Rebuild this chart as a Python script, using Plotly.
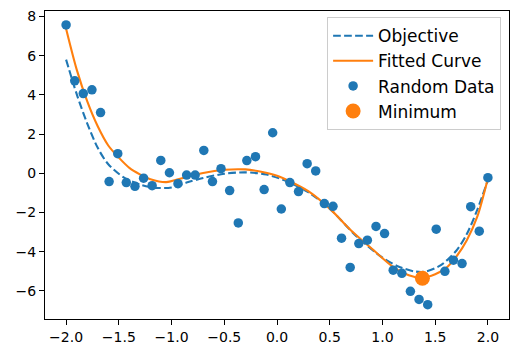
import plotly.graph_objects as go

# Random data points
data_x = [-2.0, -1.918, -1.837, -1.755, -1.673, -1.592, -1.510, -1.429, -1.347, -1.265,
          -1.184, -1.102, -1.020, -0.939, -0.857, -0.776, -0.694, -0.612, -0.531, -0.449,
          -0.367, -0.286, -0.204, -0.122, -0.041, 0.041, 0.122, 0.204, 0.286, 0.367,
          0.449, 0.531, 0.612, 0.694, 0.776, 0.857, 0.939, 1.020, 1.102, 1.184,
          1.265, 1.347, 1.429, 1.510, 1.592, 1.673, 1.755, 1.837, 1.918, 2.0]
data_y = [7.57, 4.72, 4.07, 4.26, 3.10, -0.42, 1.00, -0.47, -0.66, -0.25,
          -0.63, 0.66, 0.03, -0.53, -0.09, -0.09, 1.17, -0.42, 0.24, -0.88,
          -2.53, 0.65, 0.85, -0.83, 2.07, -1.82, -0.47, -0.93, 0.49, 0.12,
          -1.54, -1.68, -3.31, -4.80, -3.58, -3.41, -2.71, -3.07, -4.94, -5.10,
          -6.02, -6.43, -6.70, -2.85, -5.00, -4.43, -4.60, -1.70, -2.95, -0.22]

# Objective curve (dashed)
obj_x = [-2.0, -1.9, -1.8, -1.7, -1.6, -1.45, -1.3, -1.15, -1.0, -0.85, -0.7, -0.5,
         -0.3, -0.1, 0.1, 0.3, 0.5, 0.75, 1.0, 1.15, 1.3, 1.4, 1.55, 1.7, 1.8, 1.9, 2.0]
obj_y = [5.8, 4.05, 2.55, 1.3, 0.46, -0.22, -0.57, -0.74, -0.72, -0.46, -0.24, -0.02,
         0.05, -0.06, -0.42, -0.97, -1.8, -3.19, -4.3, -4.75, -5.0, -5.02, -4.7, -3.95,
         -3.1, -1.85, -0.35]

# Fitted curve
fit_x = [-2.0, -1.9, -1.8, -1.7, -1.6, -1.5, -1.4, -1.3, -1.2, -1.05, -0.9, -0.7, -0.5,
         -0.3, -0.15, 0.0, 0.1, 0.3, 0.5, 0.7, 0.9, 1.1, 1.25, 1.38, 1.5, 1.6, 1.7,
         1.8, 1.9, 2.0]
fit_y = [7.37, 5.3, 3.68, 2.4, 1.42, 0.8, 0.28, -0.05, -0.3, -0.45, -0.25, 0.02, 0.18,
         0.2, 0.08, -0.12, -0.35, -0.92, -1.8, -2.9, -3.85, -4.77, -5.2, -5.33, -5.15,
         -4.85, -4.25, -3.41, -2.2, -0.25]

# Minimum
min_x = [1.379]
min_y = [-5.35]

x_ticks = [-2.0, -1.5, -1.0, -0.5, 0.0, 0.5, 1.0, 1.5, 2.0]
x_labels = ["\u22122.0", "\u22121.5", "\u22121.0", "\u22120.5", "0.0", "0.5", "1.0", "1.5", "2.0"]
y_ticks = [-6, -4, -2, 0, 2, 4, 6, 8]
y_labels = ["\u22126", "\u22124", "\u22122", "0", "2", "4", "6", "8"]

BLUE = "#1f77b4"
ORANGE = "#ff7f0e"
FONT = "DejaVu Sans"

fig = go.Figure()
fig.add_trace(go.Scatter(x=obj_x, y=obj_y, mode="lines", name="Objective",
                         line=dict(color=BLUE, width=2.1, dash="7.7px,3.3px", shape="spline", smoothing=0.8)))
fig.add_trace(go.Scatter(x=fit_x, y=fit_y, mode="lines", name="Fitted Curve",
                         line=dict(color=ORANGE, width=2.1, shape="spline", smoothing=0.8)))
fig.add_trace(go.Scatter(x=data_x, y=data_y, mode="markers", name="Random Data",
                         marker=dict(color=BLUE, size=9.5, line=dict(width=0))))
fig.add_trace(go.Scatter(x=min_x, y=min_y, mode="markers", name="Minimum",
                         marker=dict(color=ORANGE, size=15, line=dict(width=0))))

axis_common = dict(showgrid=False, zeroline=False, showline=True, mirror=True,
                   linecolor="black", linewidth=1.1, ticks="outside", ticklen=5,
                   tickwidth=1.1, tickcolor="black", automargin=False,
                   tickfont=dict(family=FONT, size=14, color="black"))

# page body has an 8px margin, so the figure is sized/offset to compensate
fig.update_layout(
    width=511, height=349,
    margin=dict(l=37, r=10, t=3, b=38, autoexpand=False),
    paper_bgcolor="white", plot_bgcolor="white",
    showlegend=True,
    legend=dict(x=0.983, y=0.98, xanchor="right", yanchor="top",
                bgcolor="rgba(255,255,255,0.8)", bordercolor="#cccccc", borderwidth=1,
                font=dict(family=FONT, size=17, color="black"),
                itemsizing="trace", tracegroupgap=0, itemwidth=40),
    xaxis=dict(range=[-2.2, 2.2], tickvals=x_ticks, ticktext=x_labels, **axis_common),
    yaxis=dict(range=[-7.43, 8.28], tickvals=y_ticks, ticktext=y_labels, **axis_common),
)

fig.write_html("out.html")
